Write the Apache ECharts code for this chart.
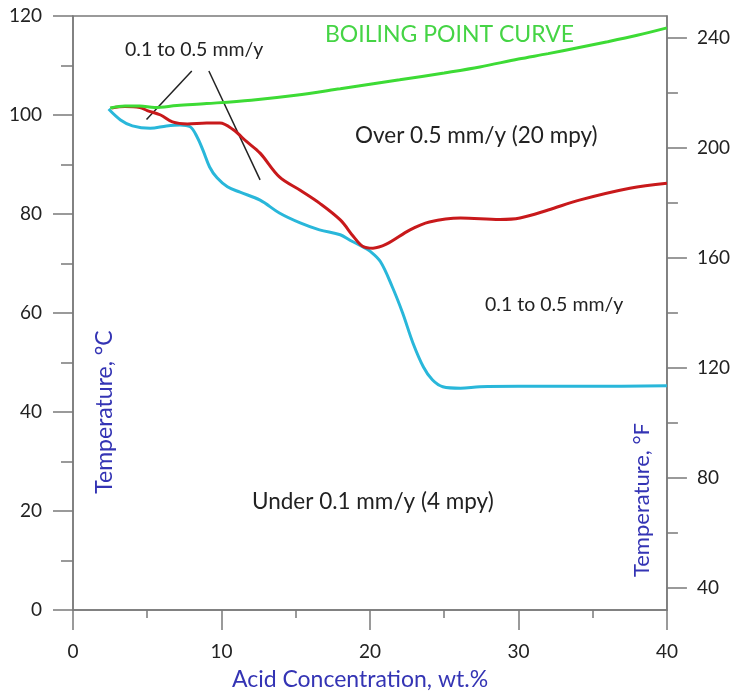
<!DOCTYPE html>
<html>
<head>
<meta charset="utf-8">
<script src="https://cdn.jsdelivr.net/npm/echarts@6/dist/echarts.min.js"></script>
<style>
html,body{margin:0;padding:0;background:#fff;}
#chart{width:733px;height:697px;}
</style>
</head>
<body>
<div id="chart"></div>
<script>
// ---- data (acid concentration wt.% , temperature °C) ----
const boilX = [2.5, 3.5, 4.5, 5.5, 7, 9, 12, 15, 18, 20, 22, 25, 27.4, 30, 32, 34, 36, 38, 40];
const boilC = [101.4, 101.8, 101.8, 101.5, 101.9, 102.3, 103.0, 104.0, 105.3, 106.2, 107.1, 108.5, 109.7, 111.3, 112.4, 113.6, 114.8, 116.1, 117.6];

const cyanX = [2.4, 3.2, 4.0, 5.2, 6.3, 7.2, 7.9, 8.35, 8.75, 9.2, 9.7, 10.4, 11.25, 12.6, 13.9, 15.3, 16.6, 18.0, 18.65, 19.5, 20.0, 20.7, 21.5, 22.2, 22.9, 23.6, 24.2, 24.9, 26.1, 27.4, 30, 35, 40];
const cyanC = [101.2, 99.0, 97.8, 97.3, 97.8, 98.0, 97.6, 95.6, 92.9, 89.5, 87.3, 85.5, 84.4, 82.8, 80.2, 78.2, 76.8, 75.8, 74.7, 73.4, 72.5, 70.4, 65.3, 60.0, 53.9, 49.1, 46.5, 45.1, 44.8, 45.1, 45.2, 45.2, 45.3];

const redX = [2.6, 3.5, 4.5, 5.0, 5.9, 6.7, 7.7, 9.0, 9.9, 10.8, 11.7, 12.6, 13.9, 15.3, 16.6, 18.0, 18.9, 19.5, 20.2, 21.1, 22.7, 24.0, 26.1, 28.75, 30.1, 32, 34.1, 37.5, 40];
const redC = [101.4, 101.7, 101.5, 100.9, 100.0, 98.6, 98.2, 98.4, 98.4, 97.0, 94.6, 92.3, 87.5, 84.8, 82.2, 78.8, 75.4, 73.5, 73.1, 73.9, 76.8, 78.4, 79.2, 78.9, 79.2, 80.8, 82.8, 85.2, 86.2];

// pointer lines from the "0.1 to 0.5 mm/y" label (data units)
const pointer1X = [8.0, 4.95];
const pointer1C = [108.9, 99.1];
const pointer2X = [9.15, 12.6];
const pointer2C = [108.9, 86.9];

// tick labels
const xTicks = [0, 10, 20, 30, 40];
const cTicks = [0, 20, 40, 60, 80, 100, 120];
const fTicks = [40, 80, 120, 160, 200, 240];
const fMinorTicks = [60, 100, 140, 180, 220];

const zip = (xs, ys) => xs.map((x, i) => [x, ys[i]]);

const AX = '#7a7a7a';
const LBL = '#222';
const BLUE = '#3434b4';
const FONT = 'Lato, "Open Sans", sans-serif';

const chart = echarts.init(document.getElementById('chart'));
chart.setOption({
  backgroundColor: '#fff',
  animation: false,
  grid: { left: 73, right: 66, top: 16, bottom: 87, show: true, borderColor: AX, borderWidth: 1.5, backgroundColor: 'transparent' },
  xAxis: {
    type: 'value', min: xTicks[0], max: xTicks[xTicks.length - 1], interval: 10,
    axisLine: { lineStyle: { color: AX, width: 1.5 } },
    axisTick: { length: 20, lineStyle: { color: AX, width: 1.5 } },
    minorTick: { show: true, splitNumber: 2, length: 8, lineStyle: { color: AX, width: 1.5 } },
    splitLine: { show: false },
    axisLabel: { margin: 32, fontSize: 19, color: LBL, fontFamily: FONT }
  },
  yAxis: [
    {
      type: 'value', min: cTicks[0], max: cTicks[cTicks.length - 1], interval: 20, position: 'left',
      axisLine: { show: true, lineStyle: { color: AX, width: 1.5 } },
      axisTick: { show: true, length: 20, lineStyle: { color: AX, width: 1.5 } },
      minorTick: { show: true, splitNumber: 2, length: 12, lineStyle: { color: AX, width: 1.5 } },
      splitLine: { show: false },
      axisLabel: { margin: 31, fontSize: 19, color: LBL, fontFamily: FONT }
    },
    {
      type: 'value', min: 32, max: 248, position: 'right',
      axisLine: { show: true, lineStyle: { color: AX, width: 1.5 } },
      axisTick: { show: true, length: 20, customValues: fTicks, lineStyle: { color: AX, width: 1.5 } },
      splitLine: { show: false },
      axisLabel: { margin: 30, fontSize: 19, color: LBL, fontFamily: FONT, customValues: fTicks }
    },
    {
      type: 'value', min: 32, max: 248, position: 'right',
      axisLine: { show: false },
      axisTick: { show: true, length: 11, customValues: fMinorTicks, lineStyle: { color: AX, width: 1.5 } },
      splitLine: { show: false },
      axisLabel: { show: false }
    }
  ],
  series: [
    { type: 'line', data: zip(pointer1X, pointer1C), symbol: 'none', lineStyle: { color: '#222', width: 1.5 }, silent: true },
    { type: 'line', data: zip(pointer2X, pointer2C), symbol: 'none', lineStyle: { color: '#222', width: 1.5 }, silent: true },
    { name: 'cyan', type: 'line', data: zip(cyanX, cyanC), smooth: 0.35, symbol: 'none', lineStyle: { color: '#29b7da', width: 3 } },
    { name: 'red', type: 'line', data: zip(redX, redC), smooth: 0.35, symbol: 'none', lineStyle: { color: '#c8191b', width: 3 } },
    { name: 'Boiling point', type: 'line', data: zip(boilX, boilC), smooth: 0.35, symbol: 'none', lineStyle: { color: '#3ddb35', width: 3 } }
  ],
  graphic: [
    { type: 'text', x: 325, y: 35, style: { text: 'BOILING POINT CURVE', font: '23px ' + FONT, fill: '#45d445', align: 'left', verticalAlign: 'middle', textAlign: 'left', textVerticalAlign: 'middle' } },
    { type: 'text', x: 125, y: 50, style: { text: '0.1 to 0.5 mm/y', font: '19.5px ' + FONT, fill: LBL, align: 'left', verticalAlign: 'middle', textAlign: 'left', textVerticalAlign: 'middle' } },
    { type: 'text', x: 355, y: 136, style: { text: 'Over 0.5 mm/y (20 mpy)', font: '22.5px ' + FONT, fill: LBL, align: 'left', verticalAlign: 'middle', textAlign: 'left', textVerticalAlign: 'middle' } },
    { type: 'text', x: 485, y: 305, style: { text: '0.1 to 0.5 mm/y', font: '19.5px ' + FONT, fill: LBL, align: 'left', verticalAlign: 'middle', textAlign: 'left', textVerticalAlign: 'middle' } },
    { type: 'text', x: 252, y: 502, style: { text: 'Under 0.1 mm/y (4 mpy)', font: '22.5px ' + FONT, fill: LBL, align: 'left', verticalAlign: 'middle', textAlign: 'left', textVerticalAlign: 'middle' } },
    { type: 'text', x: 360, y: 680, style: { text: 'Acid Concentration, wt.%', font: '23px ' + FONT, fill: BLUE, align: 'center', verticalAlign: 'middle', textAlign: 'center', textVerticalAlign: 'middle' } },
    { type: 'text', x: 105, y: 412, rotation: Math.PI / 2, style: { text: 'Temperature, °C', font: '23px ' + FONT, fill: BLUE, align: 'center', verticalAlign: 'middle', textAlign: 'center', textVerticalAlign: 'middle' } },
    { type: 'text', x: 642, y: 500, rotation: Math.PI / 2, style: { text: 'Temperature, °F', font: '22px ' + FONT, fill: BLUE, align: 'center', verticalAlign: 'middle', textAlign: 'center', textVerticalAlign: 'middle' } }
  ]
});
</script>
</body>
</html>
